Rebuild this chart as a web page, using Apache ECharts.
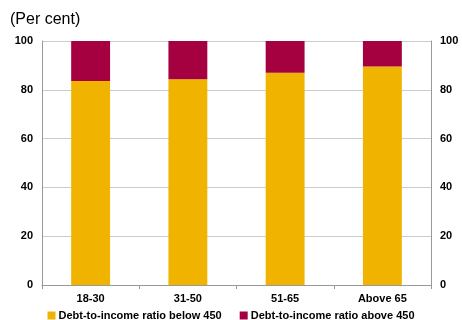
<!DOCTYPE html>
<html>
<head>
<meta charset="utf-8">
<script src="https://cdn.jsdelivr.net/npm/echarts@6/dist/echarts.min.js"></script>
<style>
	html, body { margin: 0; padding: 0; background: #fff; }
	#chart { width: 462px; height: 320px; }
</style>
</head>
<body>
<div id="chart"></div>
<script>
const categories = ['18-30', '31-50', '51-65', 'Above 65'];
const below450 = [83.6, 84.3, 87.0, 89.5];
const above450 = [16.4, 15.7, 13.0, 10.5];
const yTicks = [0, 20, 40, 60, 80, 100];

const font = 'Arial, "Liberation Sans", sans-serif';
const yLabel = {
	color: '#000',
	fontWeight: 'bold',
	fontSize: 11,
	fontFamily: font,
};

const chart = echarts.init(document.getElementById('chart'), null, {renderer: 'canvas'});
chart.setOption({
	animation: false,
	title: {
		text: '(Per cent)',
		left: 5,
		top: 7,
		textStyle: {fontSize: 16, fontWeight: 'normal', color: '#000', fontFamily: font},
	},
	grid: {left: 42, right: 31, top: 41, bottom: 35},
	legend: {
		top: 305,
		left: 'center',
		itemWidth: 8,
		itemHeight: 8,
		itemGap: 18,
		icon: 'rect',
		textStyle: {fontSize: 11, fontWeight: 'bold', color: '#000', fontFamily: font, padding: [0, 0, 0, -2]},
		data: ['Debt-to-income ratio below 450', 'Debt-to-income ratio above 450'],
	},
	xAxis: {
		type: 'category',
		data: categories,
		axisLine: {lineStyle: {color: '#999'}},
		axisTick: {show: true, length: 4, lineStyle: {color: '#999'}},
		axisLabel: {color: '#000', fontWeight: 'bold', fontSize: 11, fontFamily: font, margin: 8},
	},
	yAxis: [
		{
			type: 'value',
			min: yTicks[0],
			max: yTicks[yTicks.length - 1],
			interval: 20,
			axisLine: {show: true, lineStyle: {color: '#999'}},
			axisTick: {show: false},
			splitLine: {lineStyle: {color: '#ccc'}},
			axisLabel: Object.assign({margin: 9}, yLabel),
		},
		{
			type: 'value',
			position: 'right',
			min: yTicks[0],
			max: yTicks[yTicks.length - 1],
			interval: 20,
			axisLine: {show: true, lineStyle: {color: '#999'}},
			axisTick: {show: false},
			splitLine: {show: false},
			axisLabel: Object.assign({margin: 9}, yLabel),
		},
	],
	series: [
		{
			name: 'Debt-to-income ratio below 450',
			type: 'bar',
			stack: 'total',
			data: below450,
			barWidth: '40%',
			itemStyle: {color: '#F0B400'},
		},
		{
			name: 'Debt-to-income ratio above 450',
			type: 'bar',
			stack: 'total',
			data: above450,
			barWidth: '40%',
			itemStyle: {color: '#A50040'},
		},
	],
});
</script>
</body>
</html>
